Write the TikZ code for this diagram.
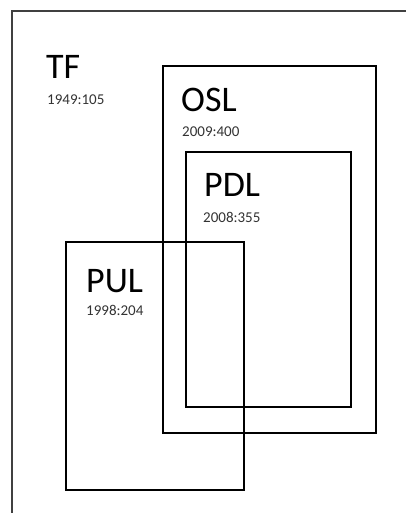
\documentclass[tikz,border=0pt]{standalone}
\usepackage{fontspec}
\setmainfont{Carlito}
\begin{document}
\begin{tikzpicture}[x=1pt,y=-1pt,
  box/.style={draw=black,line width=2.3pt,rectangle,inner sep=0pt,outer sep=0pt,anchor=north west},
  big/.style={font=\fontsize{36}{36}\selectfont,anchor=base west,inner sep=0pt,text=black},
  small/.style={font=\fontsize{15}{15}\selectfont,anchor=base west,inner sep=0pt,text=black!80},
  frame/.style={draw=black!75,line width=2pt}]
\useasboundingbox (0,0) rectangle (406,513);
\coordinate (fr) at (406,11);
\coordinate (fc) at (12,11);
\coordinate (fb) at (12,513);
\draw[frame] (fr) -- (fc) -- (fb);
\node[box,minimum width=213pt,minimum height=367pt] (osl) at (163,66) {};
\node[box,minimum width=165pt,minimum height=255pt] (pdl) at (186,152) {};
\node[box,minimum width=178pt,minimum height=248pt] (pul) at (66,242) {};
\node[big] (tf) at (46,79) {TF};
\node[small] (tfn) at (47,105) {1949:105};
\node[big] (osll) at (181,112) {OSL};
\node[small] (osln) at (182,136) {2009:400};
\node[big] (pdll) at (204,196) {PDL};
\node[small] (pdln) at (203,222) {2008:355};
\node[big] (pull) at (86,292) {PUL};
\node[small] (puln) at (86,315) {1998:204};
\end{tikzpicture}
\end{document}
